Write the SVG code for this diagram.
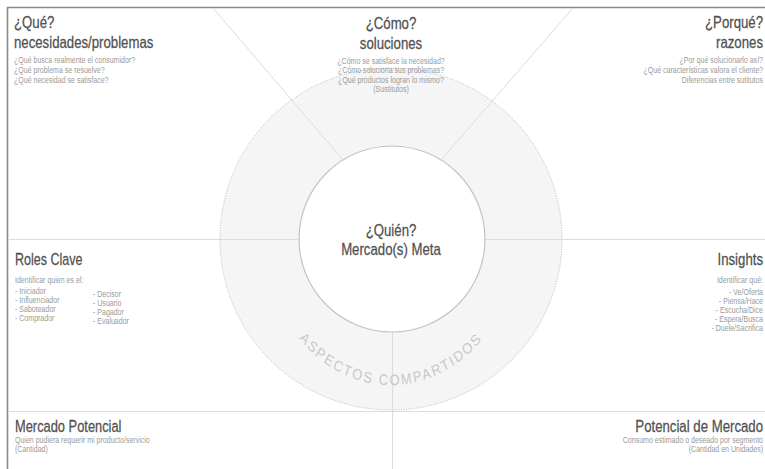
<svg xmlns="http://www.w3.org/2000/svg" width="765" height="469" viewBox="0 0 765 469">
  <style>
    text { font-family: "Liberation Sans", Arial, sans-serif; }
    .h { font-size: 16.5px; fill: #505050; stroke: #505050; stroke-width: 0.25px; }
    .s { font-size: 8.8px; fill: #9a9a9a; }
    .c { text-anchor: middle; }
    .e { text-anchor: end; }
    .div { stroke: #dcdcdc; stroke-width: 1; fill: none; }
    .border { stroke: #8a8a8a; stroke-width: 1.6; fill: none; }
    .ring-label { font-family: "Liberation Sans", Arial, sans-serif; font-size: 15px; fill: #c8c8c8; letter-spacing: 2.2px; }
  </style>
  <defs>
    <path id="arc" d="M 245 239 A 146 146 0 0 0 537 239"/>
  </defs>
  <rect x="0" y="0" width="765" height="469" fill="#fff"/>

  <g id="ring">
    <circle cx="391" cy="239" r="171" fill="#f5f5f5" stroke="#b5b5b5" stroke-width="1" stroke-dasharray="1 1.5"/>
  </g>

  <g id="connectors">
    <line class="border" x1="7" y1="7.5" x2="765" y2="7.5"/>
    <line class="border" x1="7.5" y1="7" x2="7.5" y2="469"/>
    <line class="div" x1="213" y1="8" x2="343" y2="160"/>
    <line class="div" x1="573" y1="8" x2="441" y2="160"/>
    <line class="div" x1="8" y1="239.5" x2="298" y2="239.5"/>
    <line class="div" x1="485" y1="239.5" x2="765" y2="239.5"/>
    <line class="div" x1="392.5" y1="331" x2="392.5" y2="469"/>
    <line class="div" x1="8" y1="411.5" x2="765" y2="411.5"/>
  </g>

  <g id="ring-text">
    <text class="ring-label" transform="translate(391 239) scale(0.86 1) translate(-391 -239)"><textPath href="#arc" startOffset="50%" text-anchor="middle">ASPECTOS COMPARTIDOS</textPath></text>
  </g>

  <g id="center">
    <circle cx="392" cy="239" r="93" fill="#fff" stroke="#c4c4c4" stroke-width="1.2"/>
    <text class="h c" transform="translate(391 236) scale(0.8 1)">¿Quién?</text>
    <text class="h c" transform="translate(391 255) scale(0.8 1)">Mercado(s) Meta</text>
  </g>

  <g id="que">
    <text class="h" transform="translate(14 28) scale(0.8 1)">¿Qué?</text>
    <text class="h" transform="translate(14 48) scale(0.8 1)">necesidades/problemas</text>
    <text class="s" transform="translate(14 63) scale(0.8 1)">¿Qué busca realmente el consumidor?</text>
    <text class="s" transform="translate(14 73) scale(0.8 1)">¿Qué problema se resuelve?</text>
    <text class="s" transform="translate(14 83) scale(0.8 1)">¿Qué necesidad se satisface?</text>
  </g>

  <g id="como">
    <text class="h c" transform="translate(391 29) scale(0.8 1)">¿Cómo?</text>
    <text class="h c" transform="translate(391 49) scale(0.8 1)">soluciones</text>
    <text class="s c" transform="translate(391 64) scale(0.8 1)">¿Cómo se satisface la necesidad?</text>
    <text class="s c" transform="translate(391 73) scale(0.8 1)">¿Cómo soluciona sus problemas?</text>
    <text class="s c" transform="translate(391 83) scale(0.8 1)">¿Qué productos logran lo mismo?</text>
    <text class="s c" transform="translate(391 92) scale(0.8 1)">(Sustitutos)</text>
  </g>

  <g id="porque">
    <text class="h e" transform="translate(763 28) scale(0.8 1)">¿Porqué?</text>
    <text class="h e" transform="translate(763 48) scale(0.8 1)">razones</text>
    <text class="s e" transform="translate(763 63) scale(0.8 1)">¿Por qué solucionarlo así?</text>
    <text class="s e" transform="translate(763 73) scale(0.8 1)">¿Qué características valora el cliente?</text>
    <text class="s e" transform="translate(763 83) scale(0.8 1)">Diferencias entre sutitutos</text>
  </g>

  <g id="roles">
    <text class="h" transform="translate(15 265) scale(0.76 1)">Roles Clave</text>
    <text class="s" transform="translate(15 283) scale(0.8 1)">Identificar quien es el:</text>
    <text class="s" transform="translate(15 294) scale(0.8 1)">- Iniciador</text>
    <text class="s" transform="translate(15 303) scale(0.8 1)">- Influenciador</text>
    <text class="s" transform="translate(15 312) scale(0.8 1)">- Saboteador</text>
    <text class="s" transform="translate(15 321) scale(0.8 1)">- Comprador</text>
    <text class="s" transform="translate(93 297) scale(0.8 1)">- Decisor</text>
    <text class="s" transform="translate(93 306) scale(0.8 1)">- Usuario</text>
    <text class="s" transform="translate(93 315) scale(0.8 1)">- Pagador</text>
    <text class="s" transform="translate(93 324) scale(0.8 1)">- Evaluador</text>
  </g>

  <g id="insights">
    <text class="h e" transform="translate(763 265) scale(0.8 1)">Insights</text>
    <text class="s e" transform="translate(763 283) scale(0.8 1)">Identificar qué:</text>
    <text class="s e" transform="translate(763 295) scale(0.8 1)">- Ve/Oferta</text>
    <text class="s e" transform="translate(763 304) scale(0.8 1)">- Piensa/Hace</text>
    <text class="s e" transform="translate(763 313) scale(0.8 1)">- Escucha/Dice</text>
    <text class="s e" transform="translate(763 322) scale(0.8 1)">- Espera/Busca</text>
    <text class="s e" transform="translate(763 331) scale(0.8 1)">- Duele/Sacrifica</text>
  </g>

  <g id="mercado-potencial">
    <text class="h" transform="translate(15 432) scale(0.78 1)">Mercado Potencial</text>
    <text class="s" transform="translate(15 443) scale(0.8 1)">Quien pudiera requerir mi producto/servicio</text>
    <text class="s" transform="translate(15 452) scale(0.8 1)">(Cantidad)</text>
  </g>

  <g id="potencial-mercado">
    <text class="h e" transform="translate(763 432) scale(0.8 1)">Potencial de Mercado</text>
    <text class="s e" transform="translate(763 443) scale(0.8 1)">Consumo estimado o deseado por segmento</text>
    <text class="s e" transform="translate(763 452) scale(0.8 1)">(Cantidad en Unidades)</text>
  </g>
</svg>
